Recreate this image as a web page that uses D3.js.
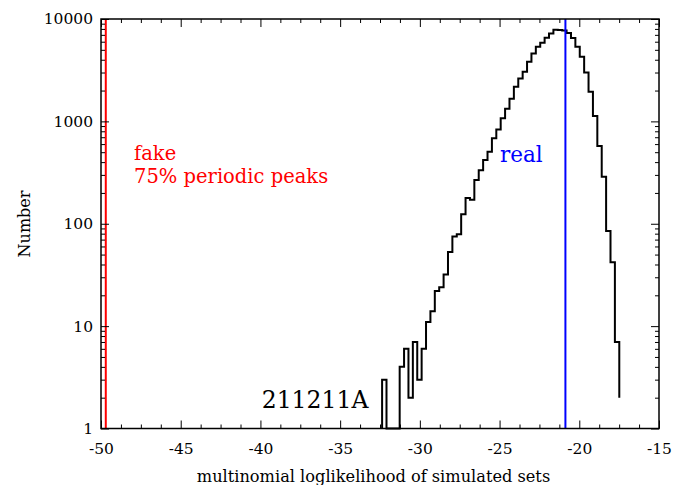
<!DOCTYPE html>
<html>
<head>
<meta charset="utf-8">
<script src="https://cdn.jsdelivr.net/npm/d3@7"></script>
<style>
  html, body { margin: 0; padding: 0; background: #fff; }
  svg { display: block; }
  text { font-family: "DejaVu Serif", serif; }
</style>
</head>
<body>
<script>
// ---- data ----
const binStart = -32.368;      // left edge of first bin
const binWidth = 0.2755;       // bin width
const counts = [
  3, 0, 0, 0, 4, 6, 2, 7, 3, 6,
  11, 14, 22, 24, 32, 53, 75, 79, 124, 178,
  172, 267, 334, 419, 505, 683, 835, 1070, 1325, 1660,
  2180, 2630, 3055, 3820, 4610, 5350, 5850, 6550, 7200, 7850,
  7800, 7700, 7300, 6510, 5350, 4270, 3000, 1945, 1127, 575,
  288, 85, 42, 7, 2
];
const fakeValue = -49.7;
const realValue = -20.87;
const xMajorTicks = [-50, -45, -40, -35, -30, -25, -20, -15];
const yMajorTicks = [1, 10, 100, 1000, 10000];
const xLabel = "multinomial loglikelihood of simulated sets";
const yLabel = "Number";
const fakeLabel = ["fake", "75% periodic peaks"];
const realLabel = "real";
const grbLabel = "211211A";

// ---- layout ----
const W = 684, H = 485;
const L = 101, R = 659, T = 19, B = 428.5;

const svg = d3.select("body").append("svg").attr("width", W).attr("height", H);

const x = d3.scaleLinear().domain([-50, -15]).range([L, R]);
const y = d3.scaleLog().domain([1, 10000]).range([B, T]);

const xMinor = d3.range(-50, -15 + 1e-9, 1.25).filter(v => Math.abs(v / 5 - Math.round(v / 5)) > 1e-6);
const yMinor = [];
[1, 10, 100, 1000].forEach(d => { for (let k = 2; k <= 9; k++) yMinor.push(d * k); });

// histogram (step line)
const pts = [{ e: binStart, v: 0 }].concat(counts.map((c, i) => ({ e: binStart + i * binWidth, v: c })));
const line = d3.line()
  .x(d => x(d.e))
  .y(d => d.v > 0 ? y(d.v) : y(1))
  .curve(d3.curveStepAfter);

svg.append("path")
  .datum(pts)
  .attr("d", line)
  .attr("fill", "none")
  .attr("stroke", "#000")
  .attr("stroke-width", 2)
  .attr("stroke-linejoin", "miter");

// vertical markers
svg.append("line")
  .attr("x1", x(fakeValue)).attr("x2", x(fakeValue))
  .attr("y1", T).attr("y2", B)
  .attr("stroke", "#ff0000").attr("stroke-width", 2);
svg.append("line")
  .attr("x1", x(realValue)).attr("x2", x(realValue))
  .attr("y1", T).attr("y2", B)
  .attr("stroke", "#0000ff").attr("stroke-width", 2);

// axes (ticks inward)
function styleAxis(g) {
  g.select(".domain").remove();
  g.selectAll("line").attr("stroke", "#000").attr("stroke-width", 1);
  g.selectAll("text").attr("fill", "#000").style("font-size", "15.5px").style("font-family", "DejaVu Serif, serif");
}
svg.append("g").attr("transform", `translate(0,${B})`)
  .call(d3.axisBottom(x).tickValues(xMajorTicks).tickSizeInner(-8).tickSizeOuter(0).tickPadding(14).tickFormat(d => String(d)))
  .call(styleAxis);
svg.append("g").attr("transform", `translate(0,${B})`)
  .call(d3.axisBottom(x).tickValues(xMinor).tickSizeInner(-4).tickSizeOuter(0).tickFormat(""))
  .call(styleAxis);
svg.append("g").attr("transform", `translate(0,${T})`)
  .call(d3.axisTop(x).tickValues(xMajorTicks).tickSizeInner(-8).tickSizeOuter(0).tickFormat(""))
  .call(styleAxis);
svg.append("g").attr("transform", `translate(0,${T})`)
  .call(d3.axisTop(x).tickValues(xMinor).tickSizeInner(-4).tickSizeOuter(0).tickFormat(""))
  .call(styleAxis);

svg.append("g").attr("transform", `translate(${L},0)`)
  .call(d3.axisLeft(y).tickValues(yMajorTicks).tickSizeInner(-8).tickSizeOuter(0).tickPadding(8).tickFormat(d3.format("d")))
  .call(styleAxis);
svg.append("g").attr("transform", `translate(${L},0)`)
  .call(d3.axisLeft(y).tickValues(yMinor).tickSizeInner(-4).tickSizeOuter(0).tickFormat(""))
  .call(styleAxis);
svg.append("g").attr("transform", `translate(${R},0)`)
  .call(d3.axisRight(y).tickValues(yMajorTicks).tickSizeInner(-8).tickSizeOuter(0).tickFormat(""))
  .call(styleAxis);
svg.append("g").attr("transform", `translate(${R},0)`)
  .call(d3.axisRight(y).tickValues(yMinor).tickSizeInner(-4).tickSizeOuter(0).tickFormat(""))
  .call(styleAxis);

// frame
svg.append("rect")
  .attr("x", L).attr("y", T).attr("width", R - L).attr("height", B - T)
  .attr("fill", "none").attr("stroke", "#000").attr("stroke-width", 1.5);

// axis titles
svg.append("text")
  .attr("x", 373.5).attr("y", 482)
  .attr("text-anchor", "middle")
  .style("font-size", "16.2px")
  .text(xLabel);
svg.append("text")
  .attr("transform", `translate(29.5,224) rotate(-90)`)
  .attr("text-anchor", "middle")
  .style("font-size", "16px")
  .text(yLabel);

// annotations
const fk = svg.append("text").attr("fill", "#ff0000").style("font-size", "19.5px");
fk.append("tspan").attr("x", 134).attr("y", 160).text(fakeLabel[0]);
fk.append("tspan").attr("x", 134).attr("y", 183.3).text(fakeLabel[1]);

svg.append("text")
  .attr("x", 500).attr("y", 161.7)
  .attr("fill", "#0000ff")
  .style("font-size", "21.5px")
  .text(realLabel);

svg.append("text")
  .attr("x", 261.7).attr("y", 408.3)
  .attr("fill", "#000")
  .style("font-size", "23.5px")
  .text(grbLabel);
</script>
</body>
</html>
